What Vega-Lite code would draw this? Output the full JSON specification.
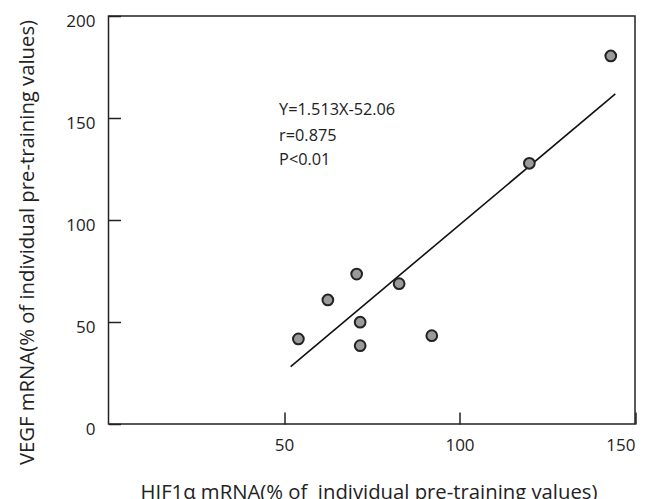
{
  "$schema": "https://vega.github.io/schema/vega-lite/v6.json",
  "autosize": {"type": "none"},
  "padding": {"left": 108.5, "top": 16, "right": 23, "bottom": 75},
  "width": 526.5,
  "height": 408,
  "background": "white",
  "config": {
    "view": {"stroke": "#222", "strokeWidth": 1.5},
    "font": "Open Sans",
    "axis": {
      "domain": false,
      "grid": false,
      "tickColor": "#222",
      "tickWidth": 1.5,
      "tickSize": -12,
      "labelFont": "Open Sans",
      "labelFontSize": 17,
      "labelColor": "#222",
      "titleFont": "Open Sans",
      "titleFontSize": 20.3,
      "titleFontWeight": "normal",
      "titleColor": "#222"
    }
  },
  "datasets": {
    "points": [
      {"hif": 54.1, "vegf": 41.7},
      {"hif": 62.5, "vegf": 60.8},
      {"hif": 70.7, "vegf": 73.5},
      {"hif": 82.8, "vegf": 68.8},
      {"hif": 71.7, "vegf": 49.9},
      {"hif": 71.7, "vegf": 38.4},
      {"hif": 92.1, "vegf": 43.3},
      {"hif": 119.9, "vegf": 127.8},
      {"hif": 143.1, "vegf": 180.4}
    ],
    "fit": [
      {"hif": 51.9, "vegf": 28.1},
      {"hif": 144.4, "vegf": 161.8}
    ],
    "notes": [
      {"hif": 48.6, "vegf": 153.7, "label": "Y=1.513X-52.06"},
      {"hif": 48.6, "vegf": 141.3, "label": "r=0.875"},
      {"hif": 48.6, "vegf": 129.2, "label": "P<0.01"}
    ]
  },
  "layer": [
    {
      "data": {"name": "fit"},
      "mark": {"type": "line", "color": "#111", "strokeWidth": 1.6},
      "encoding": {
        "x": {
          "field": "hif", "type": "quantitative",
          "scale": {"domain": [0, 150], "nice": false, "zero": false},
          "axis": {
            "values": [50, 100, 150],
            "labelPadding": 25.5,
            "title": "HIF1α mRNA(% of\u00a0 individual pre-training values)",
            "titleX": 260,
            "titleY": 74,
            "titleBaseline": "alphabetic"
          }
        },
        "y": {
          "field": "vegf", "type": "quantitative",
          "scale": {"domain": [0, 200], "nice": false},
          "axis": {
            "values": [0, 50, 100, 150, 200],
            "labelPadding": 25.5,
            "labelOffset": 5.5,
            "title": "VEGF mRNA(% of individual pre-training values)",
            "titleX": -75,
            "titleY": 226,
            "titleBaseline": "alphabetic"
          }
        }
      }
    },
    {
      "data": {"name": "points"},
      "mark": {"type": "point", "filled": true, "fill": "#9a9a9a", "stroke": "#222", "strokeWidth": 2, "size": 115, "opacity": 1, "fillOpacity": 1},
      "encoding": {
        "x": {"field": "hif", "type": "quantitative"},
        "y": {"field": "vegf", "type": "quantitative"}
      }
    },
    {
      "data": {"name": "notes"},
      "mark": {"type": "text", "align": "left", "baseline": "middle", "fontSize": 16.3, "color": "#222", "font": "Open Sans"},
      "encoding": {
        "x": {"field": "hif", "type": "quantitative"},
        "y": {"field": "vegf", "type": "quantitative"},
        "text": {"field": "label"}
      }
    }
  ]
}
